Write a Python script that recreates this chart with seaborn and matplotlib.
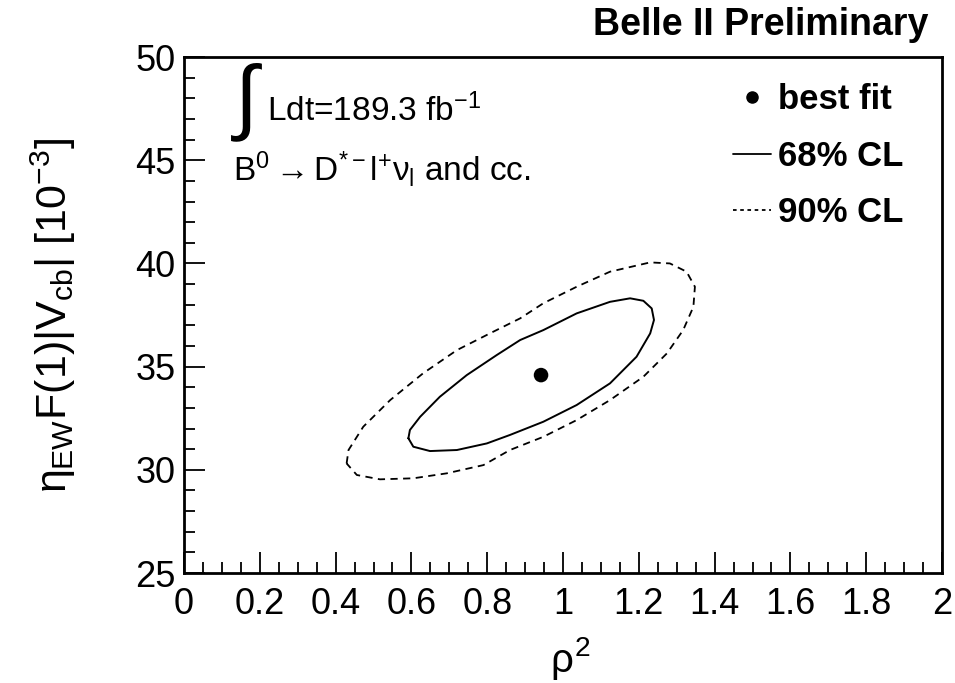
import matplotlib
matplotlib.use("Agg")
import matplotlib.pyplot as plt
from matplotlib.lines import Line2D
from matplotlib.ticker import MultipleLocator, FuncFormatter
import seaborn as sns

# Best fit point
best_rho2 = [0.942]
best_vcb = [34.59]

# 68% CL contour
cl68_rho2 = [0.592, 0.596, 0.623, 0.675, 0.746, 0.825, 0.887, 0.948, 1.036, 1.124,
             1.177, 1.212, 1.234, 1.240, 1.230, 1.194, 1.124, 1.036, 0.948, 0.860,
             0.799, 0.720, 0.649, 0.605]
cl68_vcb = [31.53, 31.93, 32.57, 33.54, 34.59, 35.56, 36.29, 36.77, 37.58, 38.14,
            38.31, 38.19, 37.82, 37.26, 36.61, 35.48, 34.19, 33.14, 32.33, 31.69,
            31.28, 30.96, 30.91, 31.12]

# 90% CL contour
cl90_rho2 = [0.429, 0.434, 0.473, 0.544, 0.631, 0.720, 0.807, 0.887, 0.948, 1.036,
             1.124, 1.230, 1.282, 1.326, 1.348, 1.344, 1.317, 1.274, 1.212, 1.124,
             1.036, 0.948, 0.860, 0.790, 0.693, 0.605, 0.517, 0.456]
cl90_vcb = [30.31, 30.96, 32.09, 33.38, 34.68, 35.80, 36.61, 37.34, 38.07, 38.87,
            39.60, 40.05, 40.00, 39.60, 38.87, 37.90, 36.77, 35.64, 34.51, 33.38,
            32.41, 31.60, 30.96, 30.23, 29.83, 29.59, 29.54, 29.75]

sns.set_theme(style="ticks")
plt.rcParams['font.family'] = ['Liberation Sans', 'DejaVu Sans']
plt.rcParams['mathtext.fontset'] = 'custom'
plt.rcParams['mathtext.rm'] = 'Liberation Sans'
plt.rcParams['mathtext.it'] = 'Liberation Sans'
plt.rcParams['mathtext.bf'] = 'Liberation Sans:bold'
plt.rcParams['text.color'] = 'black'
plt.rcParams['axes.labelcolor'] = 'black'

fig = plt.figure(figsize=(9.55, 6.83), dpi=100)
ax = fig.add_axes([0.1927, 0.161, 0.7937, 0.7555])

# close the contours
x68 = cl68_rho2 + cl68_rho2[:1]
y68 = cl68_vcb + cl68_vcb[:1]
x90 = cl90_rho2 + cl90_rho2[:1]
y90 = cl90_vcb + cl90_vcb[:1]

sns.lineplot(x=x68, y=y68, sort=False, estimator=None, color="black", lw=1.4, ax=ax)
sns.lineplot(x=x90, y=y90, sort=False, estimator=None, color="black", lw=1.3,
             linestyle=(0, (4, 3)), ax=ax)
sns.scatterplot(x=best_rho2, y=best_vcb, color="black", s=110, edgecolor="none", ax=ax)

ax.set_xlim(0, 2)
ax.set_ylim(25, 50)
ax.xaxis.set_major_locator(MultipleLocator(0.2))
ax.xaxis.set_minor_locator(MultipleLocator(0.05))
ax.yaxis.set_major_locator(MultipleLocator(5))
ax.yaxis.set_minor_locator(MultipleLocator(1))
ax.xaxis.set_major_formatter(FuncFormatter(lambda v, p: f"{v:g}"))
ax.tick_params(which="both", direction="in", top=False, right=False, labelsize=26,
               width=1.3, color="black", labelcolor="black")
ax.tick_params(which="major", length=15, pad=6)
ax.tick_params(axis="x", which="major", pad=10)
ax.tick_params(which="minor", length=8)
for sp in ax.spines.values():
    sp.set_visible(True)
    sp.set_linewidth(2.0)
    sp.set_color("black")

ax.set_xlabel(r"$\rho^{2}$", fontsize=29)
ax.xaxis.set_label_coords(0.51, -0.12)
ax.set_ylabel(r"$\eta_{\rm EW}$F(1)|V$_{\rm cb}$| [10$^{-3}$]", fontsize=31)
ax.yaxis.set_label_coords(-0.14, 0.5)

# luminosity and channel text
ax.text(0.082, 0.913, "\u222B", transform=ax.transAxes, fontsize=60,
        family=["Liberation Sans", "DejaVu Sans"], ha="center", va="center")
ax.text(0.109, 0.875, r"Ldt=189.3 fb$^{-1}$", transform=ax.transAxes,
        fontsize=24, ha="left", va="baseline")
ax.text(0.064, 0.76, r"B$^{0}$$\rightarrow$D$^{*-}$l$^{+}$$\nu_{\rm l}$ and cc.",
        transform=ax.transAxes, fontsize=24, ha="left", va="baseline")

fig.text(0.972, 0.949, "Belle II Preliminary", fontsize=27, fontweight="bold",
         ha="right", va="baseline")

handles = [
    Line2D([], [], marker="o", color="black", linestyle="none", markersize=8),
    Line2D([], [], color="black", lw=1.3),
    Line2D([], [], color="black", lw=1.3, linestyle=(0, (2, 2))),
]
labels = ["best fit", "68% CL", "90% CL"]
leg = ax.legend(handles, labels, loc="upper right", bbox_to_anchor=(0.99, 1.01),
                frameon=False, handlelength=1.1, handletextpad=0.2,
                labelspacing=0.68, prop={"weight": "bold", "size": 25})

fig.savefig("out.png", dpi=100, facecolor="white")
